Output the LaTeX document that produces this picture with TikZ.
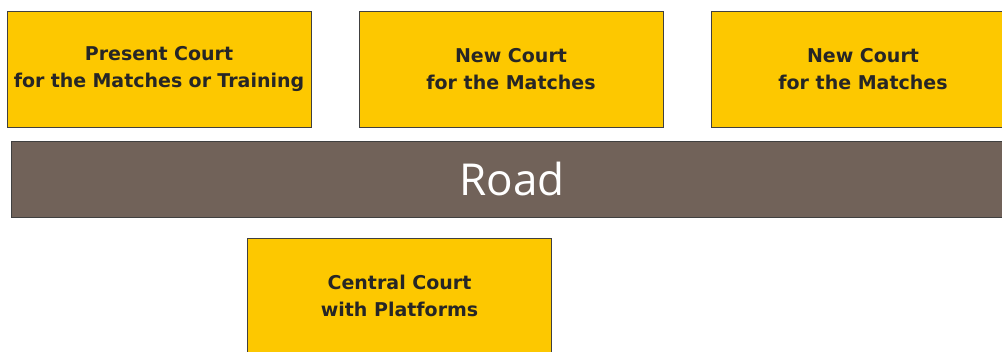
\documentclass[tikz,border=0pt]{standalone}
\usepackage{fontspec}
\setmainfont{DejaVu Sans}
\newfontfamily\roadfont{Open Sans}
\usepackage{tikz}
\usetikzlibrary{positioning}
\definecolor{courtyellow}{HTML}{FDC800}
\definecolor{roadbrown}{HTML}{716259}
\definecolor{labelgray}{HTML}{262626}
\tikzset{
  court/.style={draw=black!75, fill=courtyellow, text=labelgray,
    minimum width=304pt, minimum height=116pt, inner sep=0pt,
    align=center, font=\bfseries\fontsize{19}{26.5}\selectfont},
  road/.style={draw=black!75, fill=roadbrown, text=white,
    minimum width=1002pt, minimum height=76pt, inner sep=0pt,
    font=\roadfont\fontsize{44}{50}\selectfont}
}

\begin{document}
\begin{tikzpicture}[x=1pt, y=-1pt]
\useasboundingbox (0,0) rectangle (1002,351);
\clip (0,0) rectangle (1002,351);
% courts above the road
\node[court, text width=298pt, xshift=0pt] (present) at (159,69) {Present Court\\for the Matches or Training};
\node[court] (newleft) at (511,69) {New Court\\for the Matches};
\node[court] (newright) at (863,69) {New Court\\for the Matches};
% road
\node[road] (road) at (512,179) {Road};
% court below the road
\node[court] (central) at (399.5,296) {Central Court\\with Platforms};
\end{tikzpicture}
\end{document}
